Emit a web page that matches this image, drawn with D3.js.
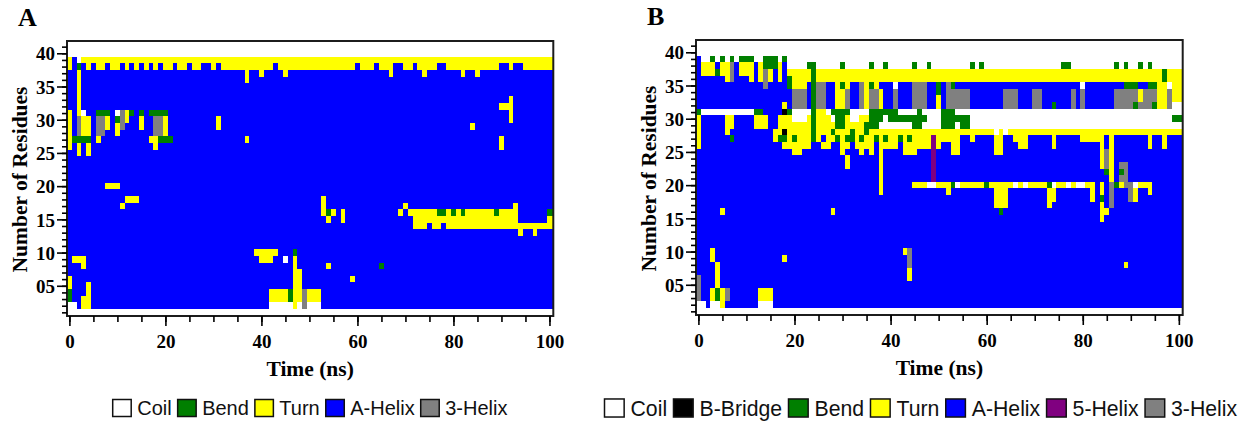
<!DOCTYPE html>
<html>
<head>
<meta charset="utf-8">
<script src="https://cdn.jsdelivr.net/npm/d3@7/dist/d3.min.js"></script>
<style>
  html, body { margin: 0; padding: 0; background: #ffffff; }
  svg { display: block; }
</style>
</head>
<body>
<svg id="chart" width="1252" height="423"></svg>
<script>
// DSSP secondary-structure states: code, legend label, colour
const stateCodes  = [".", "B", "S", "T", "H", "I", "G"];
const stateLabels = ["Coil", "B-Bridge", "Bend", "Turn", "A-Helix", "5-Helix", "3-Helix"];
const stateColors = ["#ffffff", "#000000", "#007f00", "#ffff00", "#0000ff", "#800080", "#808080"];

// axis ticks
const timeTicks = [0, 20, 40, 60, 80, 100];
const timeMinorTicks = [0, 5, 10, 15, 20, 25, 30, 35, 40, 45, 50, 55, 60, 65, 70, 75, 80, 85, 90, 95, 100];
const residueTicks = [5, 10, 15, 20, 25, 30, 35, 40];
const residueMinorTicks = [1, 2, 3, 4, 5, 6, 7, 8, 9, 10, 11, 12, 13, 14, 15, 16, 17, 18, 19, 20,
  21, 22, 23, 24, 25, 26, 27, 28, 29, 30, 31, 32, 33, 34, 35, 36, 37, 38, 39, 40, 41];

const legendStatesA = ["Coil", "Bend", "Turn", "A-Helix", "3-Helix"];
const legendStatesB = ["Coil", "B-Bridge", "Bend", "Turn", "A-Helix", "5-Helix", "3-Helix"];

// Structure blocks: [state, firstFrame(ns), lastFrame(ns), firstResidue, lastResidue]
// later blocks overwrite earlier ones
const spansA = [
  ["H", 0, 100, 2, 39], [".", 0, 100, 1, 1], [".", 0, 100, 40, 41],
  ["T", 3, 100, 38, 39],
  ["H", 3, 3, 38, 38], ["H", 5, 5, 38, 38], ["H", 8, 8, 38, 38], ["H", 11, 11, 38, 38],
  ["H", 13, 13, 38, 38], ["H", 15, 15, 38, 38], ["H", 17, 17, 38, 38], ["H", 19, 19, 38, 38],
  ["H", 22, 22, 38, 38], ["H", 25, 25, 38, 38], ["H", 28, 29, 38, 38], ["H", 31, 31, 38, 38],
  ["H", 43, 43, 38, 38], ["H", 60, 60, 38, 38], ["H", 64, 64, 38, 38], ["H", 68, 69, 38, 38],
  ["H", 72, 72, 38, 38], ["H", 77, 78, 38, 38], ["H", 90, 91, 38, 38], ["H", 93, 94, 38, 38],
  ["T", 37, 37, 36, 37], ["T", 40, 40, 37, 37], ["T", 45, 45, 37, 37], ["T", 67, 67, 37, 37],
  ["T", 74, 74, 37, 37], ["T", 82, 82, 37, 37], ["T", 85, 85, 37, 37],
  ["T", 0, 0, 38, 39], [".", 2, 2, 39, 39], ["S", 2, 2, 38, 38],
  // residues 25-37, first 22 ns
  ["T", 0, 0, 26, 31], ["S", 1, 1, 27, 27], ["T", 2, 2, 31, 37], ["G", 2, 2, 28, 30],
  ["S", 2, 4, 27, 27], ["T", 2, 2, 25, 26], [".", 3, 3, 31, 31], ["T", 3, 4, 28, 30],
  ["T", 4, 4, 25, 26], ["S", 6, 8, 31, 31], ["G", 6, 7, 28, 30], ["T", 6, 6, 27, 27],
  ["T", 8, 8, 29, 30], [".", 10, 10, 31, 31], ["S", 10, 10, 30, 30], ["T", 10, 10, 28, 29],
  ["G", 11, 11, 29, 31], ["T", 12, 12, 30, 31], ["S", 13, 13, 31, 31], ["S", 15, 15, 31, 31],
  ["T", 15, 15, 29, 30], ["S", 17, 20, 31, 31], ["T", 17, 17, 27, 27], ["G", 18, 19, 28, 30],
  ["T", 18, 18, 26, 27], ["S", 19, 21, 27, 27], ["T", 20, 20, 28, 30],
  ["T", 31, 31, 29, 30], ["T", 37, 37, 27, 27],
  ["T", 84, 84, 29, 29], ["T", 90, 91, 32, 32], ["T", 92, 92, 30, 33], ["T", 90, 90, 26, 27],
  // middle residues
  ["T", 8, 10, 20, 20], ["T", 12, 14, 18, 18], ["T", 11, 11, 17, 17],
  // N-terminus
  [".", 0, 1, 2, 2], ["S", 0, 0, 3, 4], ["T", 0, 0, 5, 6], ["T", 1, 3, 9, 9], ["T", 3, 3, 8, 8],
  ["T", 3, 3, 2, 3], ["T", 4, 4, 2, 5],
  ["T", 39, 43, 10, 10], ["T", 40, 42, 9, 9], [".", 45, 45, 9, 9],
  [".", 42, 52, 2, 2], ["T", 42, 52, 3, 4], ["S", 46, 46, 3, 4], ["T", 47, 47, 2, 9],
  ["S", 47, 47, 10, 10], ["T", 48, 48, 3, 7], ["G", 49, 49, 2, 4],
  ["T", 53, 53, 16, 18], ["S", 54, 54, 16, 16], ["T", 54, 54, 15, 15], ["T", 55, 55, 16, 16],
  ["T", 57, 57, 15, 16], ["T", 54, 54, 8, 8], ["T", 59, 59, 6, 6], ["S", 65, 65, 8, 8],
  // residues 13-17, 69-100 ns
  ["T", 69, 69, 16, 16], ["T", 70, 70, 17, 17], ["T", 71, 71, 16, 16], ["T", 72, 93, 14, 16],
  ["H", 75, 75, 14, 14], ["H", 78, 78, 14, 14], ["S", 77, 78, 16, 16], ["S", 80, 80, 16, 16],
  ["S", 82, 82, 16, 16], ["S", 89, 89, 16, 16], ["T", 93, 93, 17, 17], ["T", 94, 94, 13, 14],
  ["T", 95, 100, 14, 14], ["T", 97, 97, 13, 13], ["T", 100, 100, 15, 15], ["S", 100, 100, 16, 16]
];

const spansB = [
  ["H", 0, 100, 2, 39], [".", 0, 100, 1, 1], [".", 0, 100, 40, 41],
  [".", 19, 100, 38, 39], ["T", 19, 100, 36, 37],
  ["S", 57, 57, 38, 38], ["S", 59, 59, 38, 38], ["S", 76, 77, 38, 38], ["S", 87, 87, 38, 38],
  ["S", 89, 89, 38, 38], ["S", 92, 92, 38, 38], ["S", 94, 94, 38, 38], ["S", 97, 97, 36, 37],
  ["G", 64, 66, 32, 34], ["G", 70, 71, 32, 34], ["S", 74, 74, 32, 32], ["G", 78, 78, 32, 34],
  ["G", 80, 80, 32, 34], [".", 80, 80, 35, 35],
  ["G", 87, 95, 32, 34], ["S", 89, 91, 35, 35], ["S", 91, 91, 32, 32], ["T", 92, 92, 33, 34],
  ["S", 94, 95, 35, 35], ["S", 95, 95, 32, 32], ["T", 96, 97, 32, 35], ["G", 98, 98, 32, 34],
  [".", 98, 98, 35, 35], ["T", 99, 100, 33, 35], [".", 99, 100, 32, 32],
  [".", 57, 100, 29, 31], ["S", 99, 100, 30, 30],
  ["T", 57, 100, 28, 28], [".", 62, 62, 28, 28], [".", 64, 64, 28, 28],
  ["T", 57, 57, 27, 27], ["T", 62, 63, 25, 27], ["T", 66, 66, 27, 27], ["T", 67, 68, 26, 27],
  ["T", 74, 74, 26, 27], ["T", 80, 83, 27, 27], ["T", 84, 84, 23, 27], ["G", 85, 85, 23, 25],
  ["S", 85, 85, 22, 22], ["T", 86, 86, 21, 27], ["G", 88, 88, 21, 23], ["S", 88, 88, 22, 22],
  ["G", 89, 89, 20, 23], ["T", 94, 94, 26, 27], ["T", 97, 97, 26, 27],
  // residue 20 band
  ["T", 45, 47, 20, 20], [".", 48, 49, 20, 20], ["T", 50, 81, 20, 20], ["S", 53, 53, 20, 20],
  [".", 54, 54, 20, 20], ["S", 60, 60, 20, 20], [".", 66, 66, 20, 20], [".", 68, 68, 20, 20],
  ["S", 73, 73, 20, 20], [".", 74, 74, 20, 20], [".", 77, 77, 20, 20], [".", 79, 80, 20, 20],
  ["T", 52, 52, 19, 19], ["T", 62, 64, 17, 19], ["S", 63, 63, 16, 16], ["T", 73, 73, 17, 19],
  ["T", 74, 74, 18, 19], ["T", 82, 82, 18, 20], ["T", 84, 84, 15, 20], ["S", 84, 84, 18, 18],
  ["T", 85, 85, 16, 16], ["G", 86, 86, 17, 20], ["S", 87, 87, 20, 20], ["T", 88, 88, 20, 20],
  ["G", 90, 90, 18, 20], [".", 91, 91, 20, 20], ["T", 91, 91, 18, 19], ["T", 92, 94, 20, 20],
  ["T", 94, 94, 19, 19], ["T", 89, 89, 8, 8],
  ["I", 49, 49, 21, 27], ["T", 38, 38, 19, 27], ["T", 31, 31, 23, 24],
  // N-terminus
  [".", 0, 1, 2, 2], ["G", 0, 0, 3, 6], ["T", 3, 3, 9, 10], ["T", 4, 4, 5, 8], ["T", 3, 3, 3, 4],
  ["S", 4, 4, 3, 4], [".", 3, 4, 2, 2], ["T", 5, 5, 2, 4], ["G", 6, 6, 3, 4],
  ["T", 13, 15, 3, 4], [".", 13, 15, 2, 2], ["T", 5, 5, 16, 16], ["T", 18, 18, 9, 9],
  ["T", 28, 28, 16, 16], ["T", 43, 43, 10, 10], ["G", 44, 44, 8, 10], ["T", 44, 44, 6, 7]
];

// Per-residue state strings for residues 25-39, frames 0-56 ns ("|" every 10 ns)
const stripsB = [
  [39, 0, "H..S.S.S.S|SS..SSS.S.|..........|..........|..........|......."],
  [38, 0, "HTTTHTTGHT|TTHTSSSTH.|...SS.....|S.....S..S|.....S..S.|......."],
  [37, 0, "HTTTSTTGHT|TTHTGTHTHT|TTTTSTTTTT|TTTTTTTTTT|TTTTTTTTTT|TTTTTTT"],
  [36, 0, "HHHHHHTGHH|HTHTGTHTHS|TTTTSTTTTT|TTTTTTTTTT|TTTTTTTTTT|TTTTTTT"],
  [35, 0, "HHHHHHHHHH|HHHHGHHHHS|TTTHSGGHHT|STHHGTSTHH|H.HHHGGGHH|SHGSHHH"],
  [34, 0, "HHHHHHHHHH|HHHHHHHHHH|GGGHSGGHHT|TGHHGTGGTH|HGHHHGGGHH|SHGGGGG"],
  [33, 0, "HHHHHHHHHH|HHHHHHHHHH|GGGHSGGHHT|TGHHGTGGTH|HGHHHGGGHH|THGGGGG"],
  [32, 0, "HHHHHHHHHH|HHHHHHHHTH|GGGHSGGHHT|TGHHGTGGTH|HGHHHGGGHH|THGGGGG"],
  [31, 0, "S.........|..SSHHHHBS|....STT.SS|SS....SSSS|SS....S...|.SSS..."],
  [30, 0, "THHHHHTTHH|HHTTTHHTTT|...TSTTT.S|ST..TTSSS.|SSSSSSSS..|.SSSSSS"],
  [29, 0, "THHHHHTTHH|HHTTTHHTTT|TTTTSTTTTS|STTTTSSS..|.....SS...|.SSS.SS"],
  [28, 0, "THHHHHTHHH|HHHHHHTTBT|TTTTSTTTST|TTSTTSTTTT|TTTTTTTTTT|TTTTTTT"],
  [27, 0, "THHHHHHSHH|HHHHHHTSST|STTTSTHTTS|TSSTSTTSTS|TTSTSTTTTI|TTTTTHH"],
  [26, 0, "THHHHHHHHH|HHHHHHHHTT|TTTTHHTTHH|TTHTTTTHTT|TTHTTTTTTI|THHTTHH"],
  [25, 0, "HHHHHHHHHH|HHHHHHHHHH|TTHHHHHHHH|THHHTHTHTH|HHHTTTHHHI|HHHTTHH"]
];

const panels = [
  { letter: "A", left: 67, right: 553.3, top: 41, bottom: 316, spans: spansA, strips: [],
    legend: legendStatesA, legendX: 112.7, legendScale: 1.0 },
  { letter: "B", left: 696, right: 1182.7, top: 40, bottom: 315, spans: spansB, strips: stripsB,
    legend: legendStatesB, legendX: 604.5, legendScale: 1.062 }
];

const serif = "'Liberation Serif', 'Times New Roman', Times, serif";
const sans = "'Liberation Sans', Arial, Helvetica, sans-serif";
const colorOf = d3.scaleOrdinal().domain(stateCodes).range(stateColors);
const svg = d3.select("#chart");

function buildCells(spans, strips) {
  const cells = new Map();
  spans.forEach(([code, t0, t1, r0, r1]) => {
    for (let r = r0; r <= r1; r++)
      for (let t = t0; t <= t1; t++) cells.set(r + ":" + t, code);
  });
  strips.forEach(([r, t0, codes]) => {
    const s = codes.replace(/\|/g, "");
    for (let i = 0; i < s.length; i++) cells.set(r + ":" + (t0 + i), s[i]);
  });
  return Array.from(cells, ([k, code]) => {
    const [r, t] = k.split(":").map(Number);
    return { r, t, code };
  });
}

function drawPanel(p) {
  const g = svg.append("g");
  const x = d3.scaleLinear().domain([-0.5, 100.8]).range([p.left, p.right]);
  const y = d3.scaleLinear().domain([0.45, 41.85]).range([p.bottom, p.top]);
  const cells = buildCells(p.spans, p.strips);

  g.append("g").attr("shape-rendering", "crispEdges")
    .selectAll("rect").data(cells).join("rect")
    .attr("x", d => x(d.t - 0.5))
    .attr("width", d => (d.t === 100 ? p.right : x(d.t + 0.5)) - x(d.t - 0.5))
    .attr("y", d => y(d.r + 0.5))
    .attr("height", d => y(d.r - 0.5) - y(d.r + 0.5))
    .attr("fill", d => colorOf(d.code));

  // frame
  g.append("rect")
    .attr("x", p.left).attr("y", p.top)
    .attr("width", p.right - p.left).attr("height", p.bottom - p.top)
    .attr("fill", "none").attr("stroke", "#1c1c1c").attr("stroke-width", 2);

  // y axis
  const yMinor = g.append("g").attr("transform", `translate(${p.left},0)`)
    .call(d3.axisLeft(y).tickValues(residueMinorTicks).tickSize(5).tickFormat(""));
  const yMajor = g.append("g").attr("transform", `translate(${p.left},0)`)
    .call(d3.axisLeft(y).tickValues(residueTicks).tickSize(10).tickPadding(2)
      .tickFormat(d => (d < 10 ? "0" + d : String(d))));
  // x axis
  const xMinor = g.append("g").attr("transform", `translate(0,${p.bottom})`)
    .call(d3.axisBottom(x).tickValues(timeMinorTicks).tickSize(6).tickFormat(""));
  const xMajor = g.append("g").attr("transform", `translate(0,${p.bottom})`)
    .call(d3.axisBottom(x).tickValues(timeTicks).tickSize(10).tickFormat(d3.format("d")));

  [yMinor, yMajor, xMinor, xMajor].forEach(a => {
    a.select(".domain").remove();
    a.selectAll(".tick line").attr("stroke", "#000").attr("stroke-width", 1.6);
    a.selectAll("text").attr("font-family", serif).attr("font-weight", "bold")
      .attr("font-size", 19).attr("fill", "#000");
  });
  yMajor.selectAll("text").attr("dy", "0.35em");
  xMajor.selectAll("text").attr("y", 32).attr("dy", 0);

  // axis titles
  g.append("text")
    .attr("transform", `translate(${p.left - 40},${(p.top + p.bottom) / 2 + 1}) rotate(-90)`)
    .attr("text-anchor", "middle")
    .attr("font-family", serif).attr("font-weight", "bold").attr("font-size", 21.5)
    .text("Number of Residues");
  g.append("text")
    .attr("x", (p.left + p.right) / 2).attr("y", p.bottom + 60)
    .attr("text-anchor", "middle")
    .attr("font-family", serif).attr("font-weight", "bold").attr("font-size", 21.5)
    .text("Time (ns)");

  // panel letter
  g.append("text")
    .attr("x", p.left - 49).attr("y", p.top - 15)
    .attr("font-family", serif).attr("font-weight", "bold").attr("font-size", 26)
    .text(p.letter);

  // legend
  const s = p.legendScale;
  const boxW = 18.5 * s, boxH = 17 * s, gap = 6 * s;
  const lg = g.append("g");
  let cx = p.legendX;
  p.legend.forEach(label => {
    const i = stateLabels.indexOf(label);
    lg.append("rect")
      .attr("x", cx).attr("y", 408 - boxH / 2)
      .attr("width", boxW).attr("height", boxH)
      .attr("fill", stateColors[i]).attr("stroke", "#111").attr("stroke-width", 1.5);
    cx += boxW + gap;
    const t = lg.append("text")
      .attr("x", cx).attr("y", 408).attr("dy", "0.36em")
      .attr("font-family", sans).attr("font-size", 20 * s).attr("fill", "#111")
      .text(label);
    cx += t.node().getComputedTextLength() + gap;
  });
}

panels.forEach(drawPanel);
</script>
</body>
</html>
